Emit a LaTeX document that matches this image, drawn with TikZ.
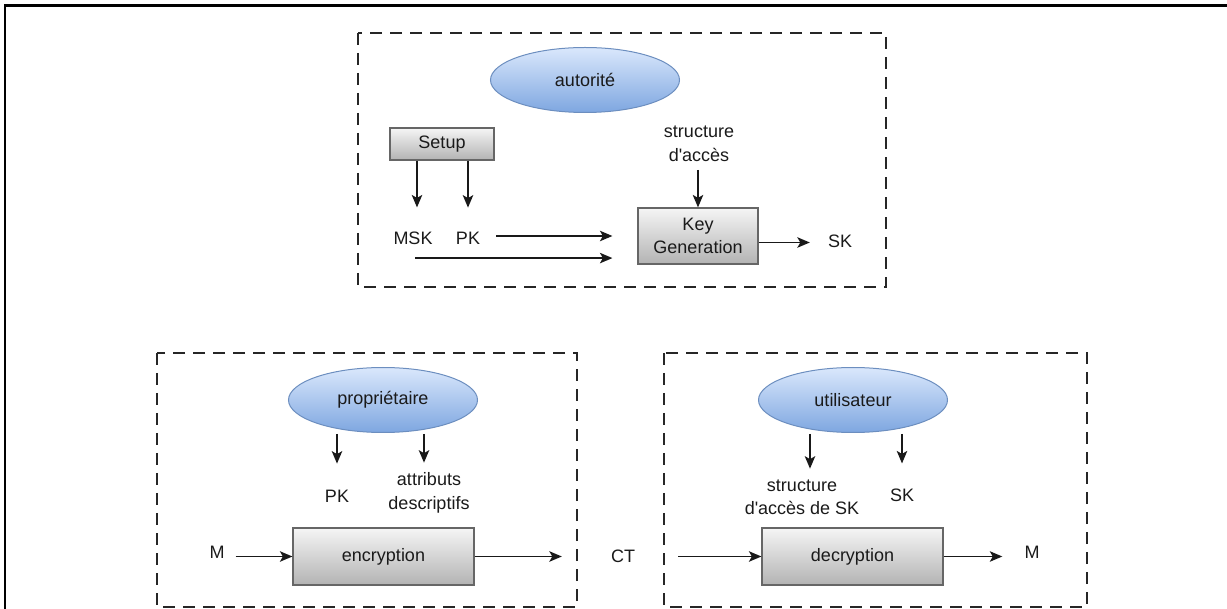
\documentclass[tikz,border=0pt]{standalone}
\usepackage{fontspec}
\setmainfont{Liberation Sans}[Ligatures=TeXOff]
\usetikzlibrary{shapes.geometric,arrows.meta}
\definecolor{ellTop}{HTML}{DAE8FC}
\definecolor{ellBot}{HTML}{7EA6E0}
\definecolor{ellLine}{HTML}{6C8EBF}
\definecolor{boxTop}{HTML}{F5F5F5}
\definecolor{boxBot}{HTML}{B3B3B3}
\definecolor{boxLine}{HTML}{666666}
\definecolor{txt}{HTML}{1A1A1A}
\begin{document}
\begin{tikzpicture}[x=1pt,y=-1pt,
  font=\fontsize{18}{23.5}\selectfont, text=txt,
  group/.style={draw=black!85, line width=1.3pt, dash pattern=on 12pt off 8pt},
  actor/.style={ellipse, draw=ellLine, line width=1pt, top color=ellTop, bottom color=ellBot,
    minimum width=189pt, minimum height=65pt, inner sep=0pt},
  proc/.style={rectangle, draw=boxLine, line width=1.2pt, top color=boxTop, bottom color=boxBot,
    inner sep=0pt, align=center},
  lbl/.style={inner sep=0pt, align=center},
  arr/.style={draw=black!90, line width=1.4pt, -{Stealth[length=12.5pt,width=10.5pt,inset=3pt]}}]
\useasboundingbox (0,0) rectangle (1227,609);
% outer frame
\draw[line width=2.5pt] (5,612) -- (5,5.5) -- (1230,5.5);
% groups
\draw[group] (358,33) rectangle (886,287);
\draw[group] (157,353) rectangle (577,607);
\draw[group] (664,353) rectangle (1087,607);

% ---- autorite ----
\node[actor] (aut) at (585,80) {autorité};
\node[proc, minimum width=104pt, minimum height=32pt] (setup) at (442,144) {Setup};
\node[lbl] (msk) at (413,238) {MSK};
\node[lbl] (pk1) at (468,238) {PK};
\node[lbl] (struct) at (699,144) {structure\\d'accès};
\node[proc, minimum width=120pt, minimum height=56pt] (kg) at (698,236) {Key\\Generation};
\node[lbl] (sk1) at (840,241) {SK};

\draw[arr, shorten >=24pt] ([xshift=4pt]setup.south -| msk.north) -- ([xshift=4pt]msk.north);
\draw[arr, shorten >=24pt] (setup.south -| pk1.north) -- (pk1.north);
\draw[arr] ([yshift=-8pt]struct.south -| kg.north) -- (kg.north);
\draw[arr] ([xshift=16pt,yshift=2pt]pk1.east) -- ([xshift=-25pt,yshift=2pt]kg.west |- pk1.east);
\coordinate (lowstart) at ([xshift=2pt,yshift=-13.5pt]msk.south);
\draw[arr] (lowstart) -- ([xshift=-25pt]kg.west |- lowstart);
\draw[arr] ([yshift=-1.5pt]kg.east |- sk1) -- ([xshift=-18pt,yshift=-1.5pt]sk1.west);

% ---- proprietaire ----
\node[actor] (prop) at (383,400) {propriétaire};
\node[lbl] (pk2) at (337,496) {PK};
\node[lbl] (attr) at (429,493) {attributs\\descriptifs};
\node[proc, minimum width=181pt, minimum height=57pt] (enc) at (383.5,556.5) {encryption};
\node[lbl] (m1) at (217,552) {M};
\node[lbl] (ct) at (623,556) {CT};

\draw[arr, shorten >=26pt] ([yshift=-1pt]prop.south -| pk2.north) -- (pk2.north);
\draw[arr, shorten >=10pt] ([xshift=-5pt,yshift=-1pt]prop.south -| attr.north) -- ([xshift=-5pt]attr.north);
\draw[arr] ([xshift=11pt]m1.east |- enc.west) -- (enc.west);
\draw[arr] (enc.east) -- ([xshift=-49pt]ct.west |- enc.east);

% ---- utilisateur ----
\node[actor] (user) at (853,400) {utilisateur};
\node[lbl] (struct2) at (802,497.5) {structure\\d'accès de SK};
\node[lbl] (sk2) at (902,495) {SK};
\node[proc, minimum width=181pt, minimum height=57pt] (dec) at (852.5,556.5) {decryption};
\node[lbl] (m2) at (1032,552) {M};

\draw[arr, shorten >=11pt] ([xshift=8pt,yshift=-1pt]user.south -| struct2.north) -- ([xshift=8pt]struct2.north);
\draw[arr, shorten >=25pt] ([yshift=-1pt]user.south -| sk2.north) -- (sk2.north);
\draw[arr] ([xshift=43pt]ct.east |- dec.west) -- (dec.west);
\draw[arr] (dec.east) -- ([xshift=-22pt]m2.west |- dec.east);
\end{tikzpicture}
\end{document}
